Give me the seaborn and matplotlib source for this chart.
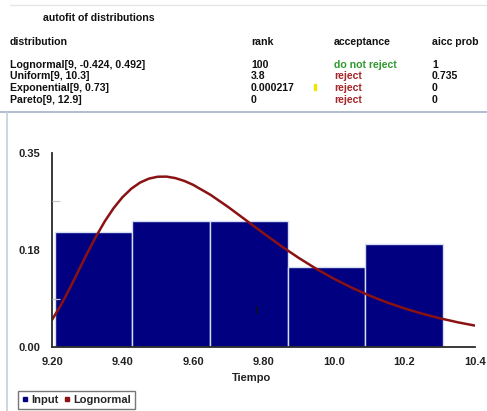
import seaborn as sns
import matplotlib.pyplot as plt
from matplotlib.lines import Line2D
from matplotlib.patches import Rectangle

# histogram of the input sample (bin edges and bar heights)
bin_edges = [9.208, 9.428, 9.648, 9.869, 10.089, 10.309]
bin_heights = [0.207, 0.228, 0.228, 0.144, 0.186]

# fitted lognormal curve
curve_x = [9.200, 9.225, 9.250, 9.275, 9.300, 9.325, 9.350, 9.375, 9.400, 9.425,
           9.450, 9.475, 9.500, 9.525, 9.550, 9.575, 9.600, 9.650, 9.700, 9.750,
           9.800, 9.850, 9.900, 9.950, 10.00, 10.05, 10.10, 10.15, 10.20, 10.25,
           10.30, 10.35, 10.40]
curve_y = [0.0490, 0.0753, 0.1054, 0.1373, 0.1693, 0.1995, 0.2270, 0.2507, 0.2703, 0.2856,
           0.2967, 0.3038, 0.3072, 0.3074, 0.3047, 0.2997, 0.2927, 0.2744, 0.2525, 0.2289,
           0.2052, 0.1822, 0.1607, 0.1409, 0.1231, 0.1071, 0.0929, 0.0805, 0.0696, 0.0601,
           0.0519, 0.0447, 0.0386]

y_ticks = [0.0, 0.175, 0.35]
y_tick_labels = ["0.00", "0.18", "0.35"]
y_minor = [0.0875, 0.2625]
x_ticks = [9.2, 9.4, 9.6, 9.8, 10.0, 10.2, 10.4]
x_tick_labels = ["9.20", "9.40", "9.60", "9.80", "10.0", "10.2", "10.4"]

# autofit table
table_title = "autofit of distributions"
table_header = ["distribution", "rank", "acceptance", "aicc prob"]
dist_names = ["Lognormal[9, -0.424, 0.492]", "Uniform[9, 10.3]", "Exponential[9, 0.73]", "Pareto[9, 12.9]"]
ranks = ["100", "3.8", "0.000217", "0"]
acceptance = ["do not reject", "reject", "reject", "reject"]
aicc_prob = ["1", "0.735", "0", "0"]

navy = "#000080"
dark_red = "#8b1212"

sns.set_style("white")
plt.rcParams['font.family'] = ['Liberation Sans', 'DejaVu Sans']

W, H = 487, 411
fig = plt.figure(figsize=(W / 100, H / 100), dpi=100)


def fx(px):
    return px / W


def fy(py):
    return 1 - py / H


# --- top text panel ---
fs = 7.6
fig.text(fx(43), fy(18), table_title, fontsize=fs, weight='bold', va='center', color="#111111")
col_x = [10, 251, 334, 432]
for cx, h in zip(col_x, table_header):
    fig.text(fx(cx), fy(42), h, fontsize=fs, weight='bold', va='center', color="#111111")
row_y = [64.5, 76.3, 88.0, 99.7]
for i, ry in enumerate(row_y):
    fig.text(fx(col_x[0]), fy(ry), dist_names[i], fontsize=fs, weight='bold', va='center', color="#111111")
    fig.text(fx(col_x[1]), fy(ry), ranks[i], fontsize=fs, weight='bold', va='center', color="#111111")
    acc_color = "#2f9a2f" if acceptance[i] == "do not reject" else "#a3262a"
    fig.text(fx(col_x[2]), fy(ry), acceptance[i], fontsize=fs, weight='bold', va='center', color=acc_color)
    fig.text(fx(col_x[3]), fy(ry), aicc_prob[i], fontsize=fs, weight='bold', va='center', color="#111111")

# small yellow cursor mark
fig.add_artist(Rectangle((fx(314), fy(90)), 2 / W, 6 / H, color="#f2e600", transform=fig.transFigure))

# panel borders
fig.add_artist(Line2D([fx(10), 1], [fy(5), fy(5)], color="#e6e6e6", lw=1, transform=fig.transFigure))
fig.add_artist(Line2D([0, 1], [fy(112), fy(112)], color="#a8b8cc", lw=1.3, transform=fig.transFigure))
fig.add_artist(Line2D([fx(7), fx(7)], [0, fy(112)], color="#c4cedb", lw=1.2, transform=fig.transFigure))

# --- chart ---
ax = fig.add_axes([fx(52), fy(347), fx(475) - fx(52), fy(153) - fy(347)])

centers = [(a + b) / 2 for a, b in zip(bin_edges[:-1], bin_edges[1:])]
sns.histplot(x=centers, weights=bin_heights, bins=bin_edges, stat='count', color=navy,
             alpha=1, edgecolor="#d6dcf2", linewidth=1, ax=ax)
sns.lineplot(x=curve_x, y=curve_y, color=dark_red, lw=1.8, ax=ax)

ax.set_axisbelow(False)
ax.set_xlim(9.2, 10.4)
ax.set_ylim(0, 0.35)
ax.set_xticks(x_ticks)
ax.set_xticklabels(x_tick_labels)
ax.set_yticks(y_ticks)
ax.set_yticklabels(y_tick_labels)
ax.set_yticks(y_minor, minor=True)
for lab in ax.get_xticklabels() + ax.get_yticklabels():
    lab.set_fontweight('bold')
    lab.set_fontsize(8)
    lab.set_color("#222222")
ax.tick_params(axis='both', which='both', direction='in', length=6, width=0.9, color="#c8c8c8")
ax.tick_params(axis='y', pad=8.6)
ax.tick_params(axis='x', pad=7.5)
ax.tick_params(axis='y', which='minor', left=True)

ax.set_ylabel("")
ax.set_xlabel("Tiempo", fontsize=8, weight='bold', color="#222222")
ax.xaxis.set_label_coords((252 - 52) / 423, -0.158)
ax.xaxis.label.set_va('center')

for side in ['top', 'right']:
    ax.spines[side].set_visible(False)
for side in ['left', 'bottom']:
    ax.spines[side].set_color("#2a2a2a")
    ax.spines[side].set_linewidth(1.3)
ax.patch.set_alpha(0)

# small text cursor inside the third bar
ax.text(9.78, 0.065, "I", fontsize=7, weight='bold', color="#101010", ha='center', va='center')

# legend
handles = [Line2D([], [], marker='s', ls='', color=navy, markersize=3.5),
           Line2D([], [], marker='s', ls='', color=dark_red, markersize=3.5)]
leg = fig.legend(handles, ["Input", "Lognormal"], loc='lower left', bbox_to_anchor=(fx(18), fy(409)),
                 ncol=2, frameon=True, fancybox=False, edgecolor="#555555", handlelength=0.5,
                 handletextpad=0.35, columnspacing=0.5, borderpad=0.35, borderaxespad=0,
                 prop={'weight': 'bold', 'size': 8})
leg.get_frame().set_linewidth(1)

fig.savefig("out.png", dpi=100)
